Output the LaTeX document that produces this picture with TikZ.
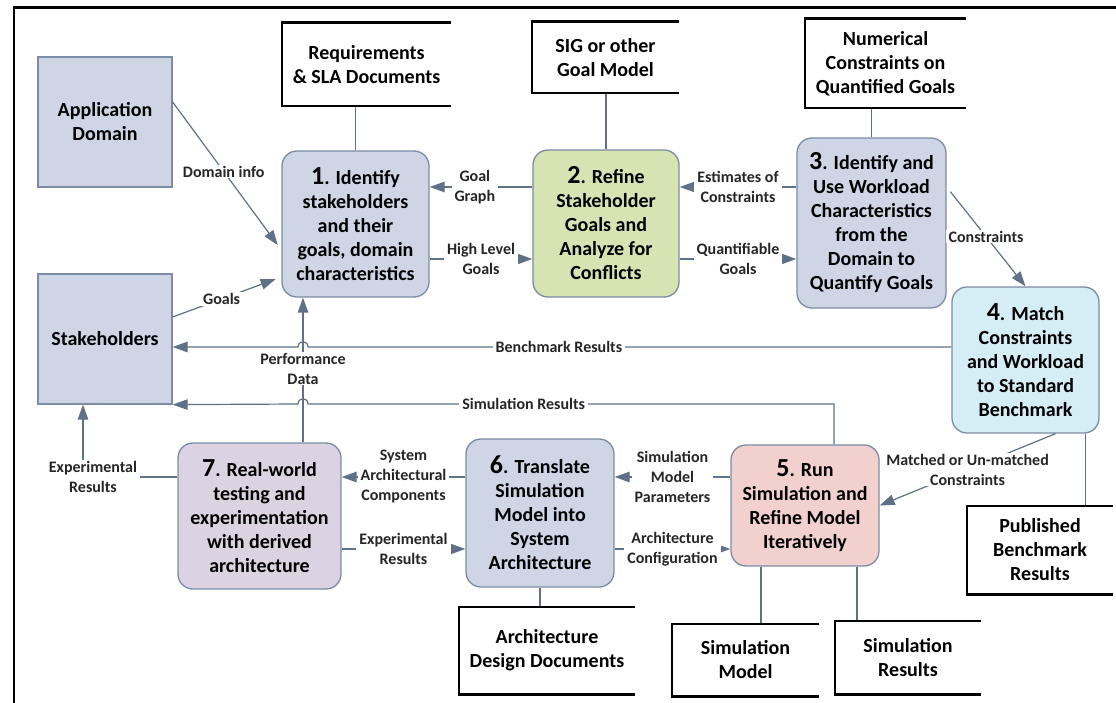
\documentclass[tikz,border=0pt]{standalone}
\usepackage{fontspec}
\setmainfont{Carlito}
\usetikzlibrary{arrows.meta}

\definecolor{wire}{HTML}{5E7186}
\definecolor{rim}{HTML}{7B8CA4}
\definecolor{steel}{HTML}{CED6E6}
\definecolor{sage}{HTML}{D6E3B3}
\definecolor{sky}{HTML}{D5EDF4}
\definecolor{rose}{HTML}{F1D0CE}
\definecolor{lilac}{HTML}{DCD3E2}

\newcommand{\stepnum}[1]{{\fontsize{26}{24}\selectfont #1}}

\tikzset{
  stage/.style={draw=rim, line width=1.3pt, rounded corners=15pt, align=center,
    inner sep=0pt, font=\bfseries\fontsize{20}{24}\selectfont},
  actor/.style={draw=rim, fill=steel, line width=1.3pt, align=center,
    minimum width=134, minimum height=130, font=\bfseries\fontsize{20}{24}\selectfont},
  store/.style={inner sep=0pt, align=center, font=\bfseries\fontsize{20}{24}\selectfont},
  storeline/.style={line width=2.6pt},
  link/.style={draw=wire, line width=1.2pt},
  flow/.style={link, -{Triangle[length=15pt,width=10.5pt]}},
  tag/.style={fill=white, inner xsep=3pt, inner ysep=1pt, align=center, text=black!85,
    font=\bfseries\fontsize{16}{20}\selectfont},
}

\begin{document}
\begin{tikzpicture}[x=1pt, y=-1pt]
  \useasboundingbox (0,0) rectangle (1116,703);
  \draw[line width=2.6pt] (14,703) -- (14,7.5) -- (1116,7.5);

  % outside actors
  \node[actor] (appdom) at (105,122) {Application\\Domain};
  \node[actor] (stake) at (105,339) {Stakeholders};

  % the seven steps
  \node[stage, fill=steel, minimum width=147, minimum height=146] (identify) at (355.5,224)
    {\stepnum{1}. Identify\\stakeholders\\and their\\goals, domain\\characteristics};
  \node[stage, fill=sage, minimum width=146, minimum height=147] (refine) at (606,223.5)
    {\stepnum{2}. Refine\\Stakeholder\\Goals and\\Analyze for\\Conflicts};
  \node[stage, fill=steel, minimum width=149, minimum height=170] (workload) at (871.5,223)
    {\stepnum{3}. Identify and\\Use Workload\\Characteristics\\from the\\Domain to\\Quantify Goals};
  \node[stage, fill=sky, minimum width=147, minimum height=146] (match) at (1025.5,360)
    {\stepnum{4}. Match\\Constraints\\and Workload\\to Standard\\Benchmark};
  \node[stage, fill=rose, minimum width=148, minimum height=121] (simulate) at (805,505.5)
    {\stepnum{5}. Run\\Simulation and\\Refine Model\\Iteratively};
  \node[stage, fill=steel, minimum width=148, minimum height=148] (translate) at (540,513)
    {\stepnum{6}. Translate\\Simulation\\Model into\\System\\Architecture};
  \node[stage, fill=lilac, minimum width=163, minimum height=146] (testing) at (259.5,516)
    {\stepnum{7}. Real-world\\testing and\\experimentation\\with derived\\architecture};

  % documents
  \node[store, minimum width=169, minimum height=83] (reqdocs) at (366.5,64.5) {Requirements\\\& SLA Documents};
  \node[store, minimum width=147, minimum height=71] (goalmodel) at (605.5,57.5) {SIG or other\\Goal Model};
  \node[store, minimum width=161, minimum height=89] (numcons) at (885.5,63.5) {Numerical\\Constraints on\\Quantified Goals};
  \node[store, minimum width=176, minimum height=87] (archdocs) at (547,650.5) {Architecture\\Design Documents};
  \node[store, minimum width=147, minimum height=72] (simmodel) at (745.5,660) {Simulation\\Model};
  \node[store, minimum width=146, minimum height=73] (simresults) at (908,657.5) {Simulation\\Results};
  \node[store, minimum width=146, minimum height=88] (pubbench) at (1040,550) {Published\\Benchmark\\Results};

  \draw[link] (identify.north) -- (identify.north |- reqdocs.south);
  \draw[link] (refine.north) -- (refine.north |- goalmodel.south);
  \draw[link] (workload.north) -- (workload.north |- numcons.south);
  \draw[link] (translate.south) -- (translate.south |- archdocs.north);
  \draw[link] ([xshift=-44pt]simulate.south) coordinate (sm) -- (sm |- simmodel.north);
  \draw[link] ([xshift=52pt]simulate.south) coordinate (sr) -- (sr |- simresults.north);
  \draw[link] ([xshift=60pt]match.south) coordinate (pb) -- (pb |- pubbench.north);

  \foreach \s in {reqdocs,goalmodel,numcons,archdocs,simmodel,simresults,pubbench}
    \draw[storeline] (\s.north east) -- (\s.north west) -- (\s.south west) -- (\s.south east);

  % rows and bends of the flows
  \coordinate (row1) at (0,187);
  \coordinate (row2) at (0,259);
  \coordinate (row3) at (0,477);
  \coordinate (row4) at (0,549);
  \coordinate (perf) at (303,0);
  \coordinate (expc) at (83,477);
  \coordinate (simc) at (834,404);
  \coordinate (hopA) at (303,347);
  \coordinate (hopB) at (303,404);

  \draw[flow, shorten >=6pt] ([yshift=20pt]appdom.east) -- node[tag, pos=0.47] {Domain info} ([yshift=-26pt]identify.west);
  \draw[flow, shorten >=6pt] ([yshift=22pt]stake.east) -- node[tag, pos=0.45] {Goals} ([yshift=-53pt]identify.west);
  \draw[flow] (refine.west |- row1) -- node[tag, pos=0.56] {Goal\\Graph} (identify.east |- row1);
  \draw[flow] (identify.east |- row2) -- node[tag] {High Level\\Goals} (refine.west |- row2);
  \draw[flow] (workload.west |- row1) -- node[tag] {Estimates of\\Constraints} (refine.east |- row1);
  \draw[flow] (refine.east |- row2) -- node[tag] {Quantifiable\\Goals} (workload.west |- row2);
  \draw[flow, shorten <=6pt] ([yshift=36pt]workload.east) -- node[tag] {Constraints} (match.north);
  \draw[flow] ([xshift=30pt]match.south) -- node[tag] {Matched or Un-matched\\Constraints} (simulate.east);
  \draw[flow] (simulate.west |- row3) -- node[tag] {Simulation\\Model\\Parameters} (translate.east |- row3);
  \draw[flow] (translate.east |- row4) -- node[tag] {Architecture\\Configuration} (simulate.west |- row4);
  \draw[flow] (translate.west |- row3) -- node[tag] {System\\Architectural\\Components} (testing.east |- row3);
  \draw[flow] (testing.east |- row4) -- node[tag] {Experimental\\Results} (translate.west |- row4);
  \draw[flow] (testing.west |- row3) -- (expc) node[tag, xshift=10pt] {Experimental\\Results} -- (stake.south -| expc);
  \draw[flow] (testing.north -| perf) -- node[tag, pos=0.51] {Performance\\Data} (identify.south -| perf);

  % results fed back, hopping over the performance line
  \draw[flow] (match.west |- hopA) -- node[tag, pos=0.61] {Benchmark Results} ([xshift=5pt]hopA)
    .. controls +(0,-7) and +(0,-7) .. ([xshift=-5pt]hopA) -- (stake.east |- hopA);
  \draw[flow] (simulate.north -| simc) -- (simc) -- node[tag, pos=0.59] {Simulation Results} ([xshift=5pt]hopB)
    .. controls +(0,-7) and +(0,-7) .. ([xshift=-5pt]hopB) -- (stake.south east);
\end{tikzpicture}
\end{document}
